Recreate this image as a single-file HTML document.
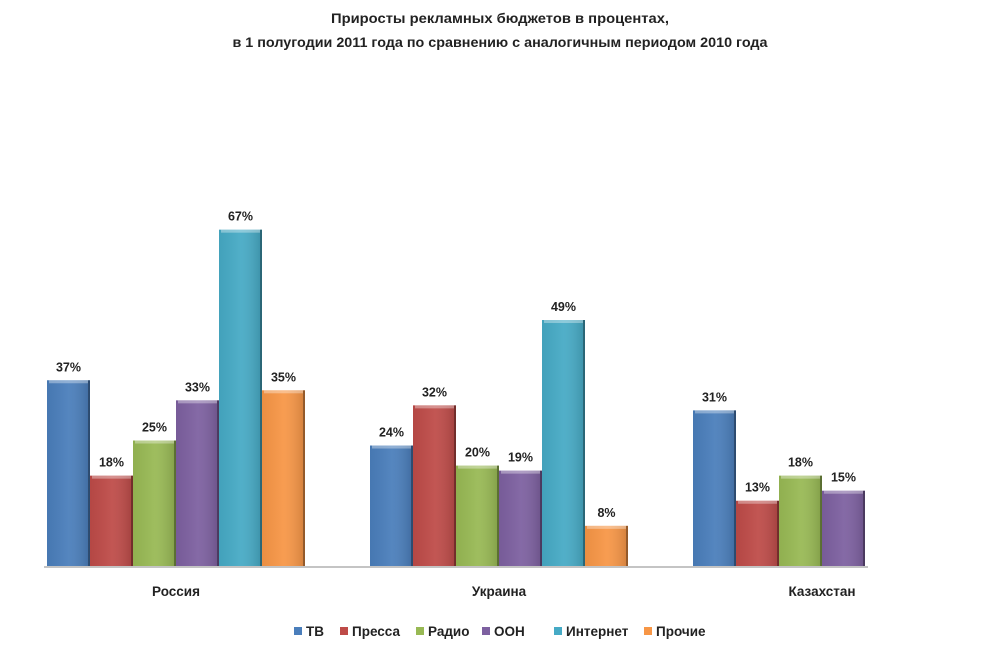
<!DOCTYPE html>
<html><head><meta charset="utf-8">
<style>
body{margin:0;background:#fff;}
svg{display:block;font-family:"Liberation Sans","DejaVu Sans",sans-serif;}
</style></head>
<body>
<svg id="chart" width="1000" height="654" viewBox="0 0 1000 654" xmlns="http://www.w3.org/2000/svg">
<defs>
<linearGradient id="shade" x1="0" x2="1" y1="0" y2="0">
<stop offset="0" stop-color="#000" stop-opacity="0.05"/>
<stop offset="0.5" stop-color="#fff" stop-opacity="0.06"/>
<stop offset="1" stop-color="#000" stop-opacity="0.15"/>
</linearGradient>
</defs>
<text x="500" y="23" text-anchor="middle" font-size="13.5" font-weight="bold" fill="#222" textLength="338" lengthAdjust="spacingAndGlyphs">Приросты рекламных бюджетов в процентах,</text>
<text x="500" y="47" text-anchor="middle" font-size="13.5" font-weight="bold" fill="#222" textLength="535" lengthAdjust="spacingAndGlyphs">в 1 полугодии 2011 года по сравнению с аналогичным периодом 2010 года</text>
<g id="bars"></g>
<g id="legend"></g>
</svg>
<script>
const categories = ["Россия", "Украина", "Казахстан"];
const seriesNames = ["ТВ", "Пресса", "Радио", "ООН", "Интернет", "Прочие"];
const tv = [37, 24, 31];
const pressa = [18, 32, 13];
const radio = [25, 20, 18];
const ooh = [33, 19, 15];
const internet = [67, 49, null];
const other = [35, 8, null];
const series = [tv, pressa, radio, ooh, internet, other];
const colors = ["#4a7ebb", "#be4b48", "#98b954", "#7d60a0", "#46aac5", "#f79646"];

const NS = "http://www.w3.org/2000/svg";
const baseY = 566, pxPer = 5.02, barW = 43, groupStart = 47, groupGap = 323;
const yScale = v => baseY - v * pxPer;
const xScale = (ci, si) => groupStart + ci * groupGap + si * barW;
function mk(tag, attrs, parent) {
  const e = document.createElementNS(NS, tag);
  for (const k in attrs) e.setAttribute(k, attrs[k]);
  parent.appendChild(e);
  return e;
}
const gb = document.getElementById("bars");
categories.forEach((cat, ci) => {
  series.forEach((s, si) => {
    const v = s[ci];
    if (v === null || v === undefined) return;
    const x = xScale(ci, si), y = yScale(v), h = baseY - y;
    const r = mk("rect", {x: x, y: y, width: barW, height: h, fill: colors[si]}, gb);
    
    
    const sh = mk("rect", {x: x, y: y, width: barW, height: h, fill: "url(#shade)"}, gb);
    
    
    const top = mk("rect", {x: x + 2, y: y, width: barW - 4, height: 3, fill: "#fff", "fill-opacity": 0.35}, gb);
    
    
    const ed = mk("rect", {x: x + barW - 2, y: y, width: 2, height: h, fill: "#000", "fill-opacity": 0.3}, gb);
    
    
    const t = mk("text", {x: x + barW / 2, y: y - 9, "text-anchor": "middle", "font-size": 12.5, "font-weight": "bold", fill: "#222"}, gb);
    t.textContent = v + "%";
    
    
  });
  const lt = mk("text", {x: groupStart + ci * groupGap + 3 * barW, y: 596, "text-anchor": "middle", "font-size": 13.5, "font-weight": "bold", fill: "#222"}, gb);
  lt.textContent = cat;
  
  
});
const bl = mk("rect", {x: 44, y: baseY, width: 824, height: 2, fill: "#555", "fill-opacity": 0.35}, gb);



const gl = document.getElementById("legend");
const legendX = [294, 340, 416, 482, 554, 644];
seriesNames.forEach((n, i) => {
  const g = mk("g", {}, gl);
  
  
  const sw = mk("rect", {x: legendX[i], y: 627, width: 8, height: 8, fill: colors[i]}, g);
  
  
  const t = mk("text", {x: legendX[i] + 12, y: 636, "font-size": 13.5, "font-weight": "bold", fill: "#222"}, g);
  t.textContent = n;
  
  
});
</script>
</body></html>
